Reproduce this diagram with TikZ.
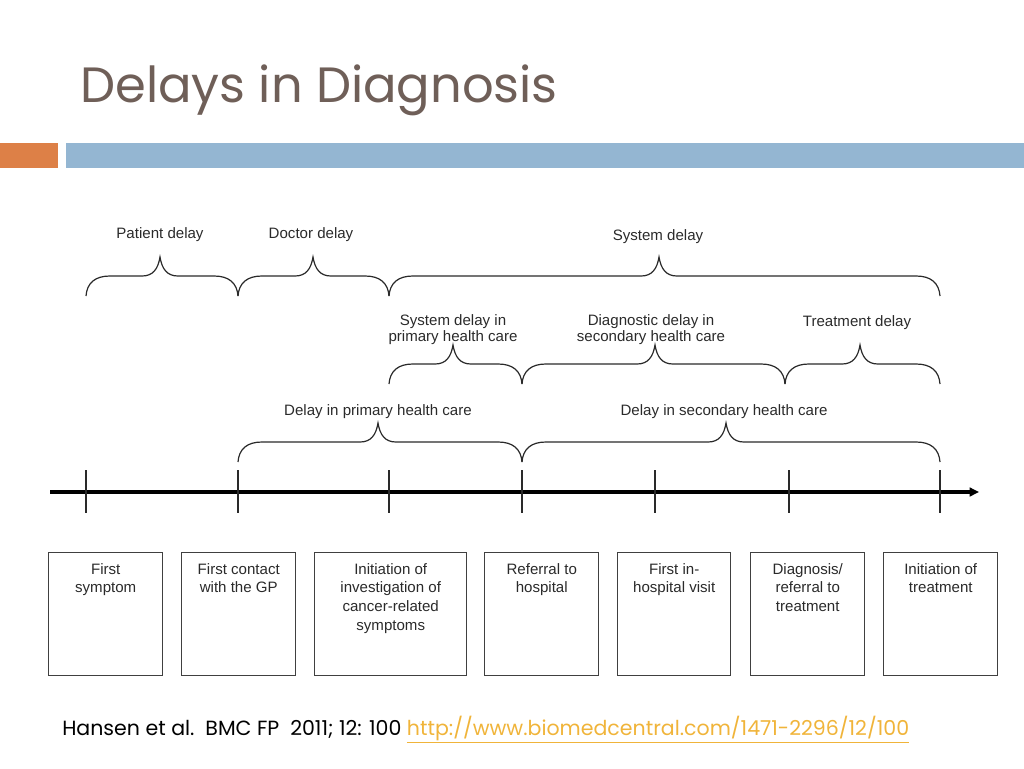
\documentclass[tikz,border=0pt]{standalone}
\usepackage{fontspec}
\setmainfont{Liberation Sans}
\newfontfamily\titlefont{Poppins}
\usetikzlibrary{arrows.meta}
\definecolor{titlecol}{HTML}{6F5F58}
\definecolor{orangebar}{HTML}{DD8047}
\definecolor{bluebar}{HTML}{94B6D2}
\definecolor{linkcol}{HTML}{F0B43A}
\definecolor{inkcol}{HTML}{2A2A2A}
\definecolor{boxcol}{HTML}{404040}
\newcommand\px{0.75pt}
\newcommand\mybrace[4]{%
  \draw[bracestyle] (#1,#4) .. controls (#1+1,#4-13) and (#1+9,#4-20) .. (#1+24,#4-20)
    -- (#2-18,#4-20) .. controls (#2-7,#4-20) and (#2-2,#4-27) .. (#2,#4-39)
    .. controls (#2+2,#4-27) and (#2+7,#4-20) .. (#2+18,#4-20)
    -- (#3-24,#4-20) .. controls (#3-9,#4-20) and (#3-1,#4-13) .. (#3,#4);}
\tikzset{
  bracestyle/.style={draw=inkcol, line width=0.9pt},
  lbl/.style={font=\fontsize{11.3}{11.9}\selectfont, text=inkcol, align=center, inner sep=0pt, anchor=north},
  boxnode/.style={draw=boxcol, line width=1.1pt, inner sep=0pt, anchor=north west},
  boxtext/.style={font=\fontsize{11.3}{14}\selectfont, text=inkcol, align=center, inner sep=0pt, anchor=north},
  tick/.style={draw=inkcol, line width=0.9pt},
}
\begin{document}
\begin{tikzpicture}[x=0.75pt,y=-0.75pt]
\useasboundingbox (0,0) rectangle (1024,768);
% title and bars
\node[anchor=base west, inner sep=0pt, text=titlecol, font=\titlefont\fontsize{37.2}{40}\selectfont] (title) at (80,102) {Delays in Diagnosis};
\fill[orangebar] (0,143) rectangle (58,168);
\fill[bluebar] (66,143) rectangle (1024,168);
% timeline
\coordinate (tlstart) at (50,492);
\coordinate (tlend) at (979,492);
\draw[draw=black, line width=2.3pt, -{Triangle[length=7pt,width=6.5pt]}] (tlstart) -- (tlend);
\foreach \x/\n in {86/t1,238/t2,389/t3,522/t4,655/t5,789/t6,940/t7}{
  \coordinate (\n) at (\x,492);
  \draw[tick] (\x,470) -- (\x,513);
}
% row 1 braces
\mybrace{86}{160}{238}{296}
\mybrace{238}{313}{389}{296}
\mybrace{389}{659}{940}{296}
\node[lbl] (pd) at (160,227) {Patient delay};
\node[lbl] (dd) at (311,227) {Doctor delay};
\node[lbl] (sd) at (658,229) {System delay};
% row 2 braces
\mybrace{389}{453}{522}{384}
\mybrace{522}{655}{785}{384}
\mybrace{785}{860}{940}{384}
\node[lbl] (sdp) at (453,314) {System delay in\\primary health care};
\node[lbl] (dds) at (651,314) {Diagnostic delay in\\secondary health care};
\node[lbl] (td) at (857,315) {Treatment delay};
% row 3 braces
\mybrace{238}{378}{522}{462}
\mybrace{522}{726}{940}{462}
\node[lbl] (dp) at (378,404) {Delay in primary health care};
\node[lbl] (ds) at (724,404) {Delay in secondary health care};
% boxes
\foreach \x/\w/\n/\t in {48/114/b1/{First\\symptom},181/114/b2/{First contact\\with the GP},314/152/b3/{Initiation of\\investigation of\\cancer-related\\symptoms},484/114/b4/{Referral to\\hospital},617/113/b5/{First in-\\hospital visit},750/114/b6/{Diagnosis/\\referral to\\treatment},883/114/b7/{Initiation of\\treatment}}{
  \node[boxnode, minimum width=\w*\px, minimum height=123*\px] (\n) at (\x,552) {};
  \node[boxtext] (\n text) at ([yshift=-11*\px]\n.north) {\t};
}
% citation
\node[anchor=base west, inner sep=0pt, font=\titlefont\fontsize{15.4}{17}\selectfont] (cite) at (62,735) {Hansen et al.\ \ BMC FP\ \ 2011; 12: 100 \textcolor{linkcol}{\underline{http://www.biomedcentral.com/1471-2296/12/100}}};
\end{tikzpicture}
\end{document}
